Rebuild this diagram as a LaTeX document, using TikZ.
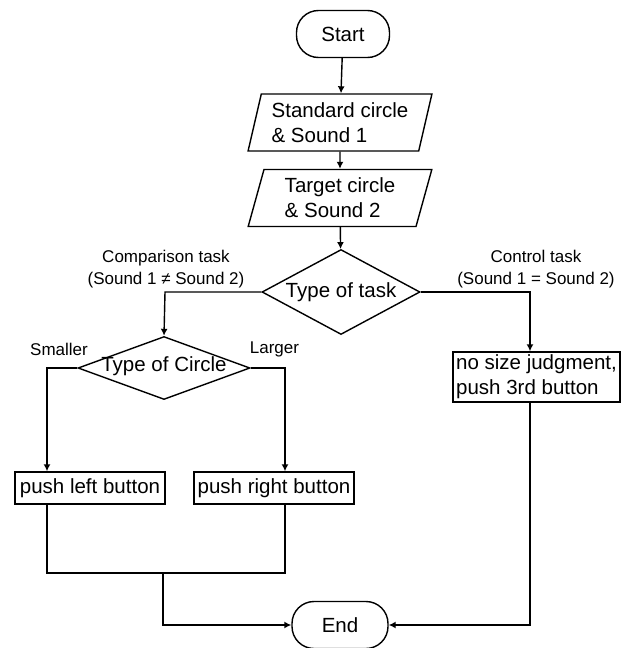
\documentclass[tikz,border=0pt]{standalone}
\usepackage{fontspec}
\setmainfont{Liberation Sans}
\usetikzlibrary{shapes.geometric,arrows.meta}
\begin{document}
\begin{tikzpicture}[x=1pt,y=-1pt,
  line width=1.4pt,
  every node/.style={font=\fontsize{20.5}{25}\selectfont},
  term/.style={draw,rounded corners=22pt,minimum width=93pt,minimum height=47pt,inner sep=0pt},
  io/.style={draw,trapezium,trapezium left angle=74,trapezium right angle=106,trapezium stretches=true,minimum width=184pt,minimum height=57pt,inner sep=0pt,align=left},
  dec/.style={draw,diamond,inner sep=0pt},
  proc/.style={draw,inner sep=2pt,align=left},
  lbl/.style={font=\fontsize{17}{22}\selectfont,align=center},
  arr/.style={-{Latex[length=7pt,width=7pt]}}
]
\useasboundingbox (0,0) rectangle (627,648);
\node[term] (start) at (343,34) {Start};
\node[io] (p1) at (340,122.5) {Standard circle\\\& Sound 1};
\node[io] (p2) at (340,198) {Target circle\\\& Sound 2};
\node[dec,minimum width=158pt,minimum height=85pt,label={center:Type of task}] (d1) at (341,292) {};
\node[dec,minimum width=172pt,minimum height=63pt,label={[yshift=2pt]center:Type of Circle}] (d2) at (164,368) {};
\node[proc,minimum width=150pt,minimum height=32pt] (lb) at (90,488) {push left button};
\node[proc,minimum width=160pt,minimum height=32pt] (rb) at (274,488) {push right button};
\node[proc,minimum width=167pt,minimum height=50pt] (nb) at (536.5,377) {no size judgment,\\push 3rd button};
\node[term,minimum width=96pt] (end) at (340,625) {End};
\coordinate (cL) at (165,292);
\coordinate (cR) at (530,292);
\coordinate (sL) at (47,368);
\coordinate (sR) at (285,368);
\coordinate (mL) at (47,573);
\coordinate (mR) at (285,573);
\coordinate (mM) at (163,573);
\coordinate (eL) at (163,625);
\coordinate (eR) at (530,625);
\node[lbl] (lc) at (166,269) {Comparison task\\(Sound 1 \char"2260\ Sound 2)};
\node[lbl] (lr) at (536,269) {Control task\\(Sound 1 = Sound 2)};
\node[lbl] (ls) at (59,349) {Smaller};
\node[lbl] (lg) at (274.5,349) {Larger};
\draw[arr] (start) -- (p1);
\draw[arr] (p1) -- (p2);
\draw[arr] (p2) -- (d1);
\draw[arr] (d1.west) -- (cL) -- (d2.north);
\draw[arr] (d1.east) -- (cR) -- (nb.north -| cR);
\draw[arr] (d2.west) -- (sL) -- (lb.north -| sL);
\draw[arr] (d2.east) -- (sR) -- (rb.north -| sR);
\draw (lb.south -| mL) -- (mL) -- (mR) -- (rb.south -| mR);
\draw[arr] (mM) -- (eL) -- (end.west);
\draw[arr] (nb.south -| eR) -- (eR) -- (end.east);
\end{tikzpicture}
\end{document}
